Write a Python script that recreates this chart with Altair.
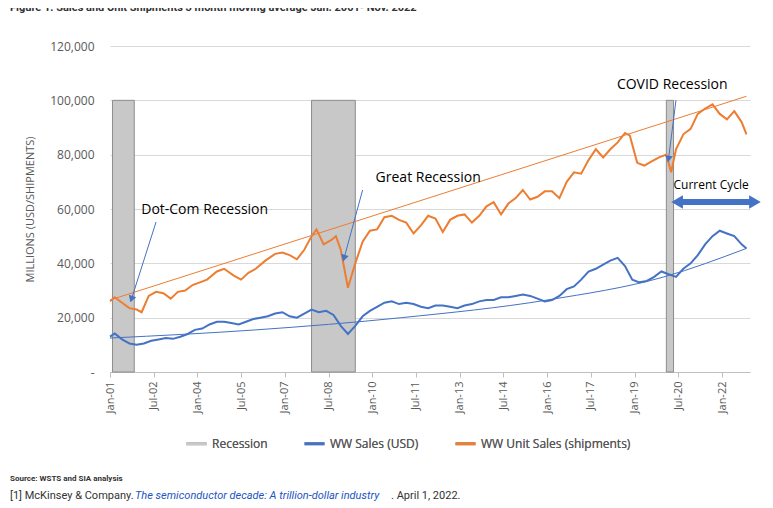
import altair as alt
import pandas as pd

BLUE = "#4472C4"
ORANGE = "#ED7D31"

# monthly-ish readings
unit_dates = ["2001-01", "2001-03", "2001-06", "2001-09", "2001-12", "2002-02", "2002-05", "2002-08",
              "2002-11", "2003-02", "2003-05", "2003-08", "2003-11", "2004-02", "2004-05", "2004-09",
              "2004-12", "2005-04", "2005-07", "2005-10", "2006-01", "2006-05", "2006-09", "2006-12",
              "2007-03", "2007-06", "2007-09", "2007-12", "2008-02", "2008-05", "2008-08", "2008-10",
              "2008-12", "2009-03", "2009-06", "2009-09", "2009-12", "2010-03", "2010-06", "2010-09",
              "2010-12", "2011-03", "2011-06", "2011-09", "2011-12", "2012-03", "2012-06", "2012-09",
              "2012-12", "2013-03", "2013-06", "2013-09", "2013-12", "2014-03", "2014-06", "2014-09",
              "2014-12", "2015-03", "2015-06", "2015-09", "2015-12", "2016-03", "2016-06", "2016-09",
              "2016-12", "2017-03", "2017-06", "2017-09", "2017-12", "2018-03", "2018-06", "2018-09",
              "2018-11", "2019-02", "2019-05", "2019-08", "2019-11", "2020-02", "2020-04", "2020-06",
              "2020-09", "2020-12", "2021-03", "2021-06", "2021-09", "2021-12", "2022-03", "2022-06",
              "2022-09", "2022-11"]
unit_values = [26000, 27500, 25500, 23500, 23000, 22000, 28000, 29500,
               29000, 27000, 29500, 30000, 32000, 33000, 34000, 37000,
               38000, 35500, 34000, 36500, 38000, 41000, 43500, 44000,
               43000, 41500, 45000, 50000, 52500, 47000, 48500, 50000,
               45000, 31000, 40000, 48000, 52000, 52500, 57000, 57500,
               56000, 55000, 51000, 54000, 57500, 56500, 51500, 56000,
               57500, 58000, 55000, 57500, 61000, 62500, 58000, 62000,
               64000, 67000, 63500, 64500, 66500, 66500, 64000, 70000,
               73500, 73000, 78000, 82000, 79000, 82000, 84500, 88000,
               87000, 77000, 76000, 77500, 79000, 80000, 73500, 82000,
               87500, 89500, 95000, 97000, 98500, 95000, 93000, 96000,
               92000, 87500]

sales_dates = ["2001-01", "2001-03", "2001-06", "2001-09", "2001-12", "2002-03", "2002-06", "2002-09",
               "2002-12", "2003-03", "2003-06", "2003-09", "2003-12", "2004-03", "2004-06", "2004-09",
               "2004-12", "2005-03", "2005-06", "2005-09", "2005-12", "2006-03", "2006-06", "2006-09",
               "2006-12", "2007-03", "2007-06", "2007-09", "2007-12", "2008-03", "2008-06", "2008-09",
               "2008-12", "2009-03", "2009-06", "2009-09", "2009-12", "2010-03", "2010-06", "2010-09",
               "2010-12", "2011-03", "2011-06", "2011-09", "2011-12", "2012-03", "2012-06", "2012-09",
               "2012-12", "2013-03", "2013-06", "2013-09", "2013-12", "2014-03", "2014-06", "2014-09",
               "2014-12", "2015-03", "2015-06", "2015-09", "2015-12", "2016-03", "2016-06", "2016-09",
               "2016-12", "2017-03", "2017-06", "2017-09", "2017-12", "2018-03", "2018-06", "2018-09",
               "2018-12", "2019-03", "2019-06", "2019-09", "2019-12", "2020-03", "2020-06", "2020-09",
               "2020-12", "2021-03", "2021-06", "2021-09", "2021-12", "2022-03", "2022-06", "2022-09",
               "2022-11"]
sales_values = [13000, 14200, 12000, 10500, 10000, 10500, 11500, 12000,
                12500, 12200, 13000, 14000, 15500, 16000, 17500, 18500,
                18500, 18000, 17500, 18500, 19500, 20000, 20500, 21500,
                22000, 20500, 20000, 21500, 23000, 22000, 22500, 21000,
                17000, 14000, 17000, 20500, 22500, 24000, 25500, 26000,
                25000, 25500, 25000, 24000, 23500, 24500, 24500, 24000,
                23500, 24500, 25000, 26000, 26500, 26500, 27500, 27500,
                28000, 28500, 28000, 27000, 26000, 26500, 28000, 30500,
                31500, 34000, 37000, 38000, 39500, 41000, 42000, 39000,
                34000, 33000, 33500, 35000, 37000, 36000, 35000, 38000,
                40000, 43000, 47000, 50000, 52000, 51000, 50000, 47000,
                45500]

unit_trend_dates = ["2001-01", "2022-11"]
unit_trend_values = [26500, 101500]
sales_trend_dates = ["2001-01", "2006-01", "2011-01", "2016-01", "2020-01", "2022-11"]
sales_trend_values = [12500, 15500, 20000, 26500, 35000, 45500]

rec_start = ["2001-02", "2007-12", "2020-02"]
rec_end = ["2001-11", "2009-06", "2020-05"]
rec_top = 100000

tick_dates = pd.date_range("2001-01-01", "2022-10-01", freq="9MS").strftime("%Y-%m-%d").tolist()

series_names = ["Recession", "WW Sales (USD)", "WW Unit Sales (shipments)"]
color = alt.Color("series:N", scale=alt.Scale(domain=series_names, range=["#c8c8c8", BLUE, ORANGE]),
                  legend=alt.Legend(title=None, orient="none", direction="horizontal", legendX=75, legendY=386,
                                    symbolType="stroke", symbolStrokeWidth=3, symbolSize=400,
                                    labelFontSize=12, labelColor="#595959", columnPadding=30))

xsc = alt.Scale(domain=["2001-01-01", "2022-12-15"])
x = alt.X("date:T", scale=xsc, title=None,
          axis=alt.Axis(values=tick_dates, format="%b-%y", labelAngle=270, labelColor="#595959",
                        labelFontSize=11, domainColor="#bfbfbf", tickColor="#bfbfbf", grid=False,
                        labelPadding=4, labelOverlap=False, labelBound=False, labelFlush=False))
y = alt.Y("value:Q", scale=alt.Scale(domain=[0, 120000]), title="MILLIONS (USD/SHIPMENTS)",
          axis=alt.Axis(values=list(range(0, 120001, 20000)), labelColor="#595959", labelFontSize=12,
                        labelExpr="datum.value == 0 ? '-' : format(datum.value, ',')",
                        domain=False, ticks=False, gridColor="#d9d9d9", titleColor="#595959",
                        titleFontSize=11, titleFontWeight="normal", titlePadding=14, labelPadding=16))

rec_df = pd.DataFrame({"date": rec_start, "end": rec_end, "value": [0] * 3, "top": [rec_top] * 3,
                       "series": ["Recession"] * 3})
rec = alt.Chart(rec_df).mark_rect(stroke="#8c8c8c", strokeWidth=1).encode(
    x=x, x2="end:T", y=y, y2="top:Q", color=color)

lines_df = pd.concat([
    pd.DataFrame({"date": sales_dates, "value": sales_values, "series": "WW Sales (USD)"}),
    pd.DataFrame({"date": unit_dates, "value": unit_values, "series": "WW Unit Sales (shipments)"}),
])
lines = alt.Chart(lines_df).mark_line(strokeWidth=2).encode(x=x, y=y, color=color, detail="series:N")

trend_df = pd.concat([
    pd.DataFrame({"date": sales_trend_dates, "value": sales_trend_values, "series": "s"}),
    pd.DataFrame({"date": unit_trend_dates, "value": unit_trend_values, "series": "u"}),
])
trends = alt.Chart(trend_df).mark_line(strokeWidth=1, interpolate="monotone").encode(
    x=x, y=y, detail="series:N",
    color=alt.Color("series:N", scale=alt.Scale(domain=["s", "u"], range=[BLUE, ORANGE]), legend=None))

# annotations
ann_df = pd.DataFrame({
    "date": ["2004-04-01", "2011-12-01", "2020-04-15", "2021-08-15"],
    "value": [59600, 71400, 105600, 68800],
    "label": ["Dot-Com Recession", "Great Recession", "COVID Recession", "Current Cycle"],
    "size": [14, 14, 14, 12],
})
ann = alt.Chart(ann_df).mark_text(font="Open Sans", color="#000000").encode(
    x="date:T", y="value:Q", text="label:N", size=alt.Size("size:Q", scale=None, legend=None))

arrow_df = pd.DataFrame({
    "date": ["2002-08-01", "2009-09-01", "2020-06-01"],
    "value": [55200, 67000, 100100],
    "date2": ["2001-10-01", "2009-01-15", "2020-03-01"],
    "value2": [27200, 42300, 78800],
    "angle": [199, 196, 188],
})
arrow_lines = alt.Chart(arrow_df).mark_rule(color=BLUE, strokeWidth=1).encode(
    x="date:T", y="value:Q", x2="date2:T", y2="value2:Q")
arrow_heads = alt.Chart(arrow_df).mark_point(shape="triangle", filled=True, size=60, color=BLUE, opacity=1).encode(
    x="date2:T", y="value2:Q", angle=alt.Angle("angle:Q", scale=None))

cycle_df = pd.DataFrame({"date": ["2020-06-15"], "end": ["2023-02-15"], "value": [62600]})
cycle_bar = alt.Chart(cycle_df).mark_rule(color=BLUE, strokeWidth=6, clip=False).encode(
    x="date:T", x2="end:T", y="value:Q")
cycle_l = alt.Chart(cycle_df).mark_point(shape="triangle-left", filled=True, size=180, color=BLUE,
                                         opacity=1, clip=False).encode(x="date:T", y="value:Q")
cycle_r = alt.Chart(cycle_df).mark_point(shape="triangle-right", filled=True, size=180, color=BLUE,
                                         opacity=1, clip=False).encode(x="end:T", y="value:Q")

title = alt.Chart(pd.DataFrame({"t": ["Figure 1: Sales and Unit Shipments 3 month moving average Jan. 2001- Nov. 2022"]})).mark_text(
    align="left", fontSize=11, fontWeight="bold", font="Roboto", color="#333").encode(
    x=alt.value(-100), y=alt.value(-38), text="t:N")
src = alt.Chart(pd.DataFrame({"t": ["Source: WSTS and SIA analysis"]})).mark_text(
    align="left", fontSize=8, fontWeight="bold", font="Roboto", color="#333").encode(
    x=alt.value(-100), y=alt.value(433), text="t:N")
ref1 = alt.Chart(pd.DataFrame({"t": ["[1] McKinsey & Company."]})).mark_text(
    align="left", fontSize=11, font="Roboto", color="#333").encode(x=alt.value(-100), y=alt.value(450), text="t:N")
ref2 = alt.Chart(pd.DataFrame({"t": ["The semiconductor decade: A trillion-dollar industry"]})).mark_text(
    align="left", fontSize=11, font="Roboto", fontStyle="italic", color="#1a55c4").encode(
    x=alt.value(25), y=alt.value(450), text="t:N")
ref3 = alt.Chart(pd.DataFrame({"t": [". April 1, 2022."]})).mark_text(
    align="left", fontSize=11, font="Roboto", color="#333").encode(x=alt.value(281), y=alt.value(450), text="t:N")

chart = alt.layer(rec, trends, lines, arrow_lines, arrow_heads, ann, cycle_bar, cycle_l, cycle_r,
                  title, src, ref1, ref2, ref3).resolve_scale(color="independent").properties(
    width=640, height=326,
    autosize=alt.AutoSizeParams(type="none"),
    padding={"left": 102, "top": 38, "right": 15, "bottom": 132},
).configure_view(strokeWidth=0).configure_axis(labelFont="Open Sans", titleFont="Open Sans") \
 .configure_legend(labelFont="Open Sans")

chart.save("out.html", embed_options={"renderer": "svg", "actions": False})
